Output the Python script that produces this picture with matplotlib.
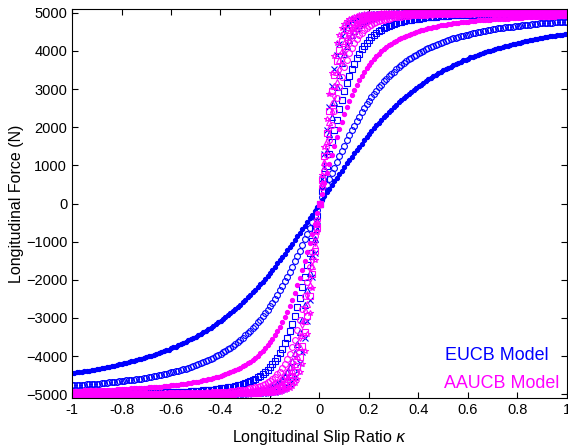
import numpy as np
import matplotlib.pyplot as plt

plt.rcParams['font.family'] = ['Liberation Sans', 'DejaVu Sans']

# slip ratio grid, -1 .. 1 in steps of 0.01
kappa = np.arange(-100, 101) / 100

# longitudinal force for kappa = 0.01 .. 1.00, in units of 10 N
# (curves are odd, the negative branch is the mirror image)
eucb_dot = [10, 19, 29, 39, 49, 58, 68, 77, 86, 96, 105, 114, 123, 132, 140, 149, 157, 166, 174, 182,
            189, 197, 205, 212, 219, 226, 233, 240, 246, 252, 259, 265, 271, 276, 282, 287, 293, 298, 303, 308,
            312, 317, 321, 326, 330, 334, 338, 342, 345, 349, 353, 356, 359, 363, 366, 369, 372, 375, 377, 380,
            383, 385, 388, 390, 393, 395, 397, 399, 401, 403, 405, 407, 409, 411, 413, 414, 416, 418, 419, 421,
            422, 424, 425, 427, 428, 429, 431, 432, 433, 434, 436, 437, 438, 439, 440, 441, 442, 443, 444, 445]
eucb_circle = [16, 32, 48, 63, 79, 94, 109, 124, 138, 152, 166, 179, 192, 204, 216, 228, 239, 250, 260, 270,
               279, 288, 296, 305, 312, 320, 327, 334, 340, 346, 352, 358, 363, 368, 373, 378, 382, 386, 390, 394,
               398, 401, 404, 408, 411, 414, 416, 419, 422, 424, 426, 429, 431, 433, 435, 437, 438, 440, 442, 443,
               445, 446, 448, 449, 451, 452, 453, 454, 455, 457, 458, 459, 460, 461, 462, 462, 463, 464, 465, 466,
               466, 467, 468, 469, 469, 470, 471, 471, 472, 472, 473, 473, 474, 474, 475, 475, 476, 476, 477, 477]
eucb_square = [33, 66, 98, 130, 162, 192, 220, 247, 272, 295, 316, 335, 352, 367, 381, 393, 404, 413, 422, 429,
               436, 442, 447, 452, 456, 459, 463, 466, 468, 471, 473, 475, 477, 478, 480, 481, 482, 483, 484, 485,
               486, 487, 488, 488, 489, 490, 490, 491, 491, 492, 492, 492, 493, 493, 493, 494, 494, 494, 495, 495,
               495, 495, 495, 496, 496, 496, 496, 496, 496, 496, 497, 497, 497, 497, 497, 497, 497, 497, 497, 498,
               498, 498, 498, 498, 498, 498, 498, 498, 498, 498, 498, 498, 498, 498, 498, 498, 498, 498, 498, 499]
eucb_triangle = [46, 92, 138, 182, 226, 267, 305, 338, 368, 392, 413, 429, 442, 453, 461, 468, 474, 478, 481, 484,
                 487, 489, 490, 491, 493, 493, 494, 495, 495, 496, 496, 497, 497, 497, 498, 498, 498, 498, 498, 499,
                 499, 499, 499, 499, 499, 499, 499, 499, 499, 499, 499, 499, 499, 499, 500, 500, 500, 500, 500, 500,
                 500, 500, 500, 500, 500, 500, 500, 500, 500, 500, 500, 500, 500, 500, 500, 500, 500, 500, 500, 500,
                 500, 500, 500, 500, 500, 500, 500, 500, 500, 500, 500, 500, 500, 500, 500, 500, 500, 500, 500, 500]
eucb_cross = [65, 130, 193, 253, 307, 353, 390, 418, 439, 454, 465, 473, 479, 484, 487, 490, 491, 493, 494, 495,
              496, 496, 497, 497, 498, 498, 498, 498, 499, 499, 499, 499, 499, 499, 499, 499, 499, 499, 500, 500,
              500, 500, 500, 500, 500, 500, 500, 500, 500, 500, 500, 500, 500, 500, 500, 500, 500, 500, 500, 500,
              500, 500, 500, 500, 500, 500, 500, 500, 500, 500, 500, 500, 500, 500, 500, 500, 500, 500, 500, 500,
              500, 500, 500, 500, 500, 500, 500, 500, 500, 500, 500, 500, 500, 500, 500, 500, 500, 500, 500, 500]

aaucb_dot = [26, 53, 79, 104, 128, 152, 174, 195, 215, 234, 252, 268, 284, 298, 311, 323, 335, 345, 355, 364,
             372, 380, 387, 393, 399, 405, 410, 415, 419, 423, 427, 431, 434, 437, 440, 443, 445, 448, 450, 452,
             454, 456, 458, 460, 461, 463, 464, 465, 467, 468, 469, 470, 471, 472, 473, 474, 475, 475, 476, 477,
             478, 478, 479, 480, 480, 481, 481, 482, 482, 483, 483, 484, 484, 484, 485, 485, 486, 486, 486, 487,
             487, 487, 488, 488, 488, 488, 489, 489, 489, 489, 490, 490, 490, 490, 490, 491, 491, 491, 491, 491]
aaucb_circle = [42, 85, 127, 167, 206, 242, 276, 306, 333, 357, 377, 394, 409, 421, 432, 441, 448, 455, 460, 465,
                469, 472, 475, 478, 480, 482, 484, 485, 486, 488, 489, 490, 490, 491, 492, 492, 493, 493, 494, 494,
                495, 495, 495, 496, 496, 496, 496, 497, 497, 497, 497, 497, 498, 498, 498, 498, 498, 498, 498, 498,
                498, 499, 499, 499, 499, 499, 499, 499, 499, 499, 499, 499, 499, 499, 499, 499, 499, 499, 499, 499,
                499, 499, 499, 499, 499, 499, 499, 499, 499, 499, 499, 499, 499, 499, 499, 500, 500, 500, 500, 500]
aaucb_diamond = [50, 100, 149, 196, 240, 281, 317, 349, 375, 397, 415, 429, 441, 451, 459, 465, 470, 474, 478, 481,
                 483, 485, 487, 488, 490, 491, 492, 493, 493, 494, 495, 495, 495, 496, 496, 496, 497, 497, 497, 497,
                 498, 498, 498, 498, 498, 498, 499, 499, 499, 499, 499, 499, 499, 499, 499, 499, 499, 499, 499, 499,
                 499, 499, 499, 499, 499, 499, 499, 499, 499, 500, 500, 500, 500, 500, 500, 500, 500, 500, 500, 500,
                 500, 500, 500, 500, 500, 500, 500, 500, 500, 500, 500, 500, 500, 500, 500, 500, 500, 500, 500, 500]
aaucb_triangle = [55, 110, 164, 215, 263, 307, 344, 375, 401, 421, 437, 449, 459, 466, 472, 477, 481, 484, 486, 488,
                  490, 491, 492, 493, 494, 495, 495, 496, 496, 497, 497, 497, 498, 498, 498, 498, 498, 498, 499, 499,
                  499, 499, 499, 499, 499, 499, 499, 499, 499, 499, 499, 499, 499, 499, 500, 500, 500, 500, 500, 500,
                  500, 500, 500, 500, 500, 500, 500, 500, 500, 500, 500, 500, 500, 500, 500, 500, 500, 500, 500, 500,
                  500, 500, 500, 500, 500, 500, 500, 500, 500, 500, 500, 500, 500, 500, 500, 500, 500, 500, 500, 500]
aaucb_square = [62, 125, 185, 242, 294, 338, 374, 403, 425, 441, 454, 464, 471, 476, 481, 484, 487, 489, 491, 492,
                493, 494, 495, 495, 496, 496, 497, 497, 497, 498, 498, 498, 498, 498, 499, 499, 499, 499, 499, 499,
                499, 499, 499, 499, 499, 499, 499, 499, 500, 500, 500, 500, 500, 500, 500, 500, 500, 500, 500, 500,
                500, 500, 500, 500, 500, 500, 500, 500, 500, 500, 500, 500, 500, 500, 500, 500, 500, 500, 500, 500,
                500, 500, 500, 500, 500, 500, 500, 500, 500, 500, 500, 500, 500, 500, 500, 500, 500, 500, 500, 500]
aaucb_star = [75, 149, 221, 287, 343, 387, 420, 443, 459, 470, 478, 483, 487, 490, 492, 494, 495, 496, 496, 497,
              497, 498, 498, 498, 499, 499, 499, 499, 499, 499, 499, 499, 499, 500, 500, 500, 500, 500, 500, 500,
              500, 500, 500, 500, 500, 500, 500, 500, 500, 500, 500, 500, 500, 500, 500, 500, 500, 500, 500, 500,
              500, 500, 500, 500, 500, 500, 500, 500, 500, 500, 500, 500, 500, 500, 500, 500, 500, 500, 500, 500,
              500, 500, 500, 500, 500, 500, 500, 500, 500, 500, 500, 500, 500, 500, 500, 500, 500, 500, 500, 500]

xtick_labels = ['-1', '-0.8', '-0.6', '-0.4', '-0.2', '0', '0.2', '0.4', '0.6', '0.8', '1']

BLUE = '#0000ff'
MAGENTA = '#ff00ff'


def full_curve(half):
    # half is in 10 N units for positive slip; build the odd curve in N
    half = np.array(half) * 10.0
    return np.concatenate([-half[::-1], [0.0], half])


def draw(ax, half, marker, color, filled=False):
    ax.plot(kappa, full_curve(half), linestyle='none', marker=marker, color=color,
            markersize=3 if filled else 4.2, markeredgewidth=0.8,
            markerfacecolor=color if filled else 'none')


fig = plt.figure(figsize=(5.68, 4.47), dpi=100)
ax = fig.add_axes([72 / 568, 49 / 447, 495 / 568, 389 / 447])

draw(ax, eucb_dot, 'o', BLUE, filled=True)
draw(ax, eucb_circle, 'o', BLUE)
draw(ax, eucb_square, 's', BLUE)
draw(ax, eucb_triangle, '^', BLUE)
draw(ax, eucb_cross, 'x', BLUE)

draw(ax, aaucb_dot, 'o', MAGENTA, filled=True)
draw(ax, aaucb_circle, 'o', MAGENTA)
draw(ax, aaucb_diamond, 'd', MAGENTA)
draw(ax, aaucb_triangle, '^', MAGENTA)
draw(ax, aaucb_square, 's', MAGENTA)
draw(ax, aaucb_star, '*', MAGENTA)

ax.set_xlim(-1, 1)
ax.set_ylim(-5100, 5100)
ax.set_xticks(np.arange(-1, 1.01, 0.2))
ax.set_xticklabels(xtick_labels)
ax.set_yticks(np.arange(-5000, 5001, 1000))
ax.tick_params(direction='in', top=True, right=True, length=4, labelsize=10.5)
ax.set_xlabel(r'Longitudinal Slip Ratio $\kappa$', fontsize=11.5, labelpad=8)
ax.set_ylabel('Longitudinal Force (N)', fontsize=11.5, labelpad=1)

ax.text(373 / 495, 0.108, 'EUCB Model', color=BLUE, fontsize=12.9,
        ha='left', va='center', transform=ax.transAxes)
ax.text(372 / 495, 0.038, 'AAUCB Model', color=MAGENTA, fontsize=12.9,
        ha='left', va='center', transform=ax.transAxes)

fig.savefig('out.png', dpi=100)
